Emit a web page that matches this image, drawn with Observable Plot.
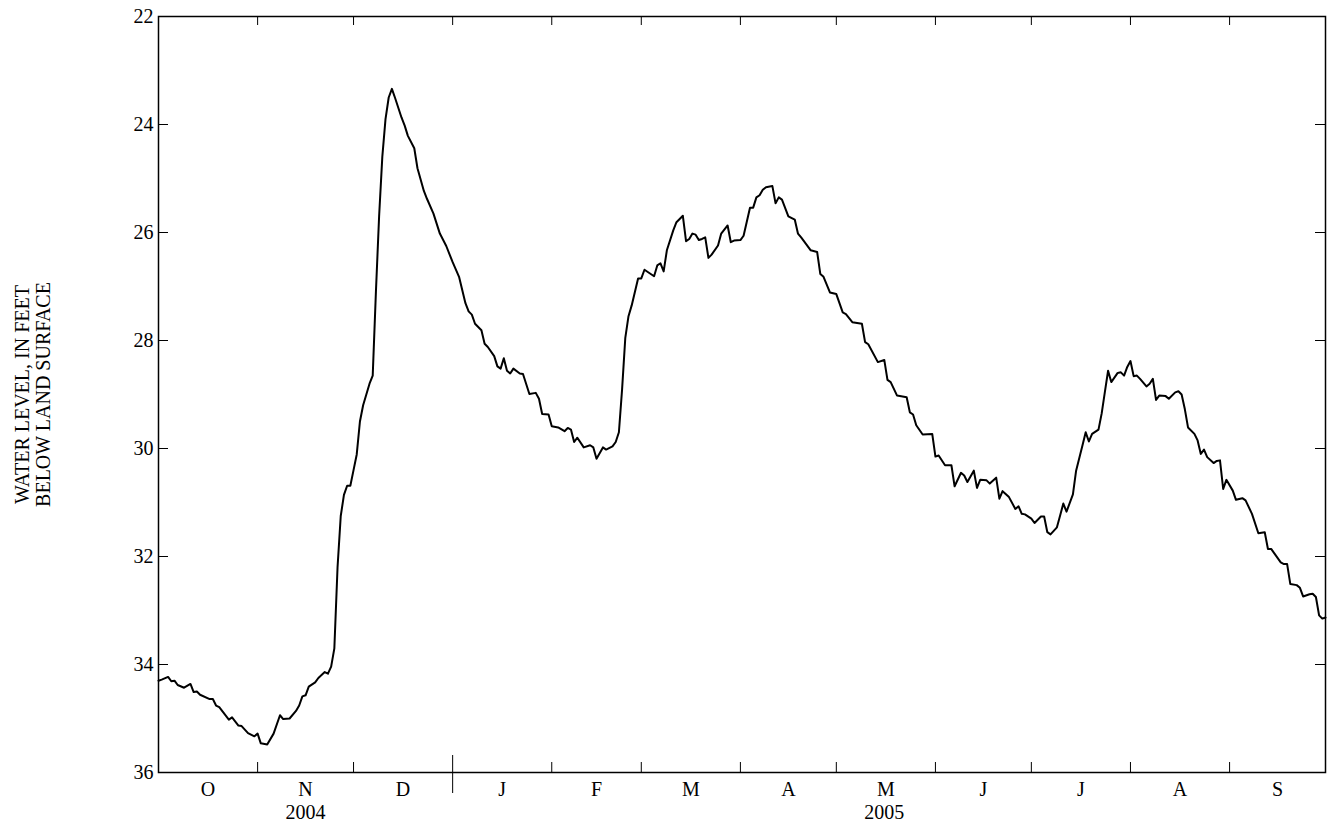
<!DOCTYPE html>
<html>
<head>
<meta charset="utf-8">
<script src="https://cdn.jsdelivr.net/npm/d3@7"></script>
<script src="https://cdn.jsdelivr.net/npm/@observablehq/plot@0.6"></script>
<style>
  html, body { margin: 0; padding: 0; background: #fff; }
  #chart { width: 1328px; height: 827px; }
</style>
</head>
<body>
<div id="chart"></div>
<script>
// Water year start (Oct 1, 2004); observations are given as days since this date
const waterYearStart = "2004-10-01";
const waterYearEnd = "2005-10-01";

const daysSinceStart = [
  0,1,3,4,5,6,8,10,11,12,13,16,17,18,19,22,23,25,26,28,30,31,32,34,36,38,39,41,43,44,45,46,47,49,50,52,53,54,55,56,57,58,59,60,61,62,63,64,65,66,67,68,69,70,71,72,73,74,76,77,78,80,81,83,84,86,88,90,92,94,96,97,98,99,101,102,103,105,106,107,108,109,110,111,113,114,116,118,119,120,122,123,125,127,128,129,130,131,133,135,136,137,139,140,142,143,144,145,146,147,148,150,151,152,155,156,157,158,159,161,162,164,165,166,167,168,169,170,171,172,173,175,176,178,179,180,182,183,185,186,187,188,189,190,192,193,194,195,197,199,200,201,204,206,207,208,210,212,214,215,217,220,221,222,225,227,228,229,231,234,235,236,237,239,242,243,244,246,248,249,251,252,253,255,256,257,259,260,262,263,264,266,268,269,270,271,273,274,276,277,278,279,281,282,283,284,286,287,289,290,291,292,294,295,296,297,298,300,301,302,303,304,305,306,307,309,310,311,312,313,315,316,318,319,320,321,322,324,325,326,327,328,330,331,332,333,334,336,337,339,340,342,344,346,347,348,351,352,353,354,356,357,358,360,361,362,363,364,365
];

const waterLevelFt = [
  34.30,34.28,34.23,34.31,34.30,34.38,34.43,34.36,34.51,34.50,34.56,34.64,34.64,34.76,34.79,35.02,34.98,35.13,35.14,35.27,35.33,35.28,35.46,35.48,35.28,34.94,35.01,35.00,34.86,34.76,34.59,34.57,34.41,34.33,34.25,34.14,34.17,34.04,33.70,32.20,31.25,30.86,30.69,30.69,30.40,30.11,29.50,29.20,29.00,28.80,28.65,27.10,25.70,24.60,23.90,23.50,23.34,23.51,23.87,24.02,24.21,24.44,24.81,25.23,25.38,25.65,26.02,26.25,26.55,26.82,27.31,27.46,27.52,27.69,27.81,28.06,28.12,28.29,28.48,28.52,28.33,28.56,28.61,28.52,28.61,28.62,28.99,28.97,29.08,29.36,29.37,29.59,29.61,29.68,29.62,29.65,29.88,29.80,29.98,29.94,29.98,30.19,29.98,30.02,29.96,29.88,29.70,28.90,27.95,27.55,27.35,26.85,26.85,26.69,26.81,26.61,26.57,26.72,26.33,25.96,25.81,25.69,26.16,26.12,26.02,26.04,26.14,26.12,26.09,26.47,26.41,26.24,26.02,25.87,26.18,26.15,26.14,26.06,25.54,25.54,25.35,25.31,25.21,25.16,25.14,25.46,25.35,25.39,25.70,25.76,26.02,26.09,26.33,26.36,26.77,26.82,27.11,27.14,27.48,27.51,27.66,27.69,28.03,28.07,28.40,28.36,28.73,28.77,29.02,29.05,29.33,29.37,29.57,29.74,29.73,30.15,30.13,30.31,30.31,30.70,30.45,30.50,30.62,30.41,30.73,30.58,30.59,30.65,30.54,30.93,30.79,30.90,31.12,31.07,31.21,31.22,31.30,31.38,31.26,31.26,31.55,31.59,31.46,31.24,31.02,31.17,30.85,30.41,29.94,29.70,29.87,29.73,29.65,29.35,28.95,28.56,28.77,28.60,28.59,28.65,28.49,28.38,28.66,28.65,28.71,28.85,28.80,28.71,29.10,29.02,29.03,29.08,28.96,28.94,29.00,29.27,29.61,29.73,29.85,30.10,30.02,30.16,30.27,30.23,30.22,30.75,30.58,30.78,30.95,30.92,30.96,31.21,31.57,31.55,31.86,31.86,32.11,32.14,32.14,32.51,32.53,32.58,32.74,32.70,32.69,32.75,33.09,33.15,33.13
];

const yTicks = [22, 24, 26, 28, 30, 32, 34, 36];
const monthLetters = ["O","N","D","J","F","M","A","M","J","J","A","S"];
const yearLabels = ["2004", "2005"];
const yearLabelDates = ["2004-11-16", "2005-05-16"];
const yearBoundary = "2005-01-01";
const yTitle = "WATER LEVEL, IN FEET\nBELOW LAND SURFACE";

const start = new Date(waterYearStart);
const end = new Date(waterYearEnd);
const data = daysSinceStart.map((d, i) => ({date: d3.utcDay.offset(start, d), level: waterLevelFt[i]}));

const monthStarts = d3.utcMonth.range(start, end);
const monthMids = monthStarts.map(m => new Date((m.getTime() + d3.utcMonth.offset(m, 1).getTime()) / 2));
const innerBoundaries = monthStarts.slice(1).filter(d => +d !== +new Date(yearBoundary));

const W = 1328, H = 827;
const mL = 158, mR = 3, mT = 16, mB = 55;
const plotW = W - mL - mR, plotH = H - mT - mB;

const chart = Plot.plot({
  width: W,
  height: H,
  marginLeft: mL,
  marginRight: mR,
  marginTop: mT,
  marginBottom: mB,
  style: {fontFamily: "'Liberation Serif', 'Times New Roman', serif", fontSize: "20px", color: "black", background: "white"},
  x: {type: "utc", domain: [start, end], axis: null},
  y: {domain: [22, 36], reverse: true, axis: null},
  marks: [
    // inward ticks on left and right
    Plot.tickY(yTicks, {y: d => d, insetRight: plotW - 10, stroke: "black", strokeWidth: 1}),
    Plot.tickY(yTicks, {y: d => d, insetLeft: plotW - 10, stroke: "black", strokeWidth: 1}),
    // inward month ticks bottom and top
    Plot.tickX(innerBoundaries, {x: d => d, insetTop: plotH - 10, stroke: "black", strokeWidth: 1}),
    Plot.tickX(monthStarts.slice(1), {x: d => d, insetBottom: plotH - 9, stroke: "black", strokeWidth: 1}),
    // year boundary tick, crossing the bottom frame
    Plot.ruleX([new Date(yearBoundary)], {insetTop: plotH - 17, insetBottom: -21, stroke: "black", strokeWidth: 1}),
    Plot.axisY({ticks: yTicks, tickSize: 0, tickPadding: 5, label: null, fontSize: 20}),
    Plot.axisX({ticks: monthMids, tickSize: 0, tickPadding: 9, label: null, fontSize: 20,
      tickFormat: (d) => monthLetters[monthMids.findIndex(m => +m === +d)]}),
    Plot.text(yearLabels, {x: (d, i) => new Date(yearLabelDates[i]), frameAnchor: "bottom", lineAnchor: "middle", dy: 40, fontSize: 20}),
    Plot.text([yTitle], {frameAnchor: "left", textAnchor: "middle", dx: -126, rotate: -90, lineHeight: 1.05, fontSize: 20}),
    Plot.line(data, {x: "date", y: "level", stroke: "black", strokeWidth: 2}),
    Plot.frame({stroke: "black", strokeWidth: 1.5})
  ]
});

document.getElementById("chart").append(chart);
</script>
</body>
</html>
